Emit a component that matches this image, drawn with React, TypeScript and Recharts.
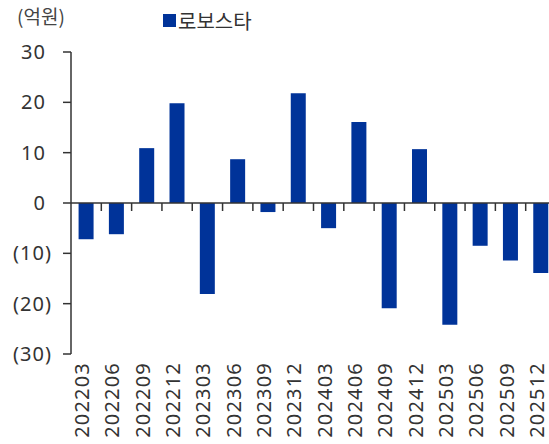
import React from 'react';
import { BarChart, Bar, XAxis, YAxis, ReferenceLine } from 'recharts';

const categories = [
  '202203', '202206', '202209', '202212', '202303', '202306', '202309', '202312',
  '202403', '202406', '202409', '202412', '202503', '202506', '202509', '202512',
];
const robostar = [-7.2, -6.2, 10.9, 19.8, -18.1, 8.7, -1.8, 21.8, -5.0, 16.1, -20.9, 10.7, -24.2, -8.5, -11.4, -13.9];
const yTicks = [30, 20, 10, 0, -10, -20, -30];
const seriesName = '로보스타';
const unitLabel = '(억원)';

const data = categories.map((period, i) => ({ period, value: robostar[i] }));

const CHART_W = 560;
const CHART_H = 444;
const MARGIN = { top: 52, right: 4, bottom: 0, left: 0 };
const Y_AXIS_W = 71;
const X_AXIS_H = 90;
const PLOT_W = CHART_W - MARGIN.left - MARGIN.right - Y_AXIS_W;
const PLOT_H = CHART_H - MARGIN.top - MARGIN.bottom - X_AXIS_H;
const BAND = PLOT_W / categories.length;
const ZERO_Y = MARGIN.top + PLOT_H / 2;

const INK = '#333333';
const BAR = '#003399';
const FONT = '"Noto Sans", "Noto Sans CJK KR", sans-serif';
const KR_FONT = '"Noto Sans CJK KR", sans-serif';

const fmtY = (v: number) => (v < 0 ? `(${Math.abs(v)})` : `${v}`);

// accounting style: positive numbers leave room for the closing paren
const ValueTick = (props: any) => {
  const { x, y, payload } = props;
  const v = payload.value as number;
  return (
    <text
      x={v < 0 ? x : x - 6}
      y={y}
      dy="0.35em"
      textAnchor="end"
      fill={INK}
      fontSize={20}
      letterSpacing={1}
      fontFamily={FONT}
    >
      {fmtY(v)}
    </text>
  );
};

// label at the bottom, small tick on the zero line between categories
const PeriodTick = (props: any) => {
  const { x, y, payload } = props;
  return (
    <g>
      <line x1={x + BAND / 2} x2={x + BAND / 2} y1={ZERO_Y} y2={ZERO_Y + 8} stroke={INK} strokeWidth={1.5} />
      <text
        transform={`translate(${x + 3},${y}) rotate(-90)`}
        textAnchor="end"
        fill={INK}
        fontSize={20}
        letterSpacing={1.2}
        fontFamily={FONT}
      >
        {payload.value}
      </text>
    </g>
  );
};

export default function App() {
  return (
    <div style={{ position: 'absolute', left: 0, top: 0, width: 549, height: 444, overflow: 'hidden', background: '#fff' }}>
      <div style={{ position: 'absolute', left: 17, top: 2, fontSize: 19, color: '#444', fontFamily: KR_FONT }}>{unitLabel}</div>
      <div style={{ position: 'absolute', left: 163, top: 6, display: 'flex', alignItems: 'center', fontFamily: KR_FONT, color: INK, fontSize: 20 }}>
        <span style={{ width: 13, height: 13, background: BAR, display: 'inline-block', marginRight: 2 }} />
        <span>{seriesName}</span>
      </div>
      <BarChart width={CHART_W} height={CHART_H} data={data} margin={MARGIN} barCategoryGap="25%">
        <XAxis
          dataKey="period"
          height={X_AXIS_H}
          axisLine={false}
          tickLine={false}
          interval={0}
          tick={<PeriodTick />}
        />
        <YAxis
          width={Y_AXIS_W}
          domain={[-30, 30]}
          ticks={yTicks}
          interval={0}
          tickSize={8}
          tickMargin={11}
          axisLine={{ stroke: INK, strokeWidth: 1.5 }}
          tickLine={{ stroke: INK, strokeWidth: 1.5 }}
          tick={<ValueTick />}
        />
        <Bar dataKey="value" fill={BAR} isAnimationActive={false} />
        <ReferenceLine y={0} stroke={INK} strokeWidth={1.5} />
      </BarChart>
    </div>
  );
}
